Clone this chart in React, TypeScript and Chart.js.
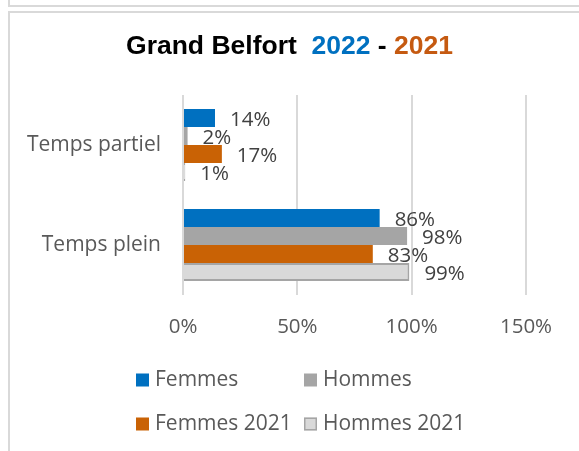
import React, { useEffect, useRef } from 'react';
import { Chart, registerables } from 'chart.js';

Chart.register(...registerables);

const categories = ['Temps partiel', 'Temps plein'];
const seriesNames = ['Femmes', 'Hommes', 'Femmes 2021', 'Hommes 2021'];
const femmes = [14, 86];
const hommes = [2, 98];
const femmes2021 = [17, 83];
const hommes2021 = [1, 99];
const xTickValues = [0, 50, 100, 150];
const titleTexts = ['Grand Belfort  ', '2022', ' - ', '2021'];

const TITLE_COLORS = ['#000000', '#0070C0', '#000000', '#C55A11'];
const FONT = "'Open Sans', 'Noto Sans', sans-serif";
const GRAY_TEXT = '#595959';

const overlayPlugin = {
  id: 'overlay',
  afterDatasetsDraw(chart: any) {
    const ctx = chart.ctx as CanvasRenderingContext2D;
    ctx.save();
    ctx.font = `20.5px ${FONT}`;
    ctx.fillStyle = '#404040';
    ctx.textAlign = 'left';
    ctx.textBaseline = 'middle';
    chart.data.datasets.forEach((ds: any, i: number) => {
      const meta = chart.getDatasetMeta(i);
      meta.data.forEach((bar: any, j: number) => {
        ctx.fillText(`${ds.data[j]}%`, bar.x + 15, bar.y + 2);
      });
    });
    ctx.restore();
  },
  afterDraw(chart: any) {
    const ctx = chart.ctx as CanvasRenderingContext2D;
    ctx.save();
    ctx.font = `bold 26.5px Arial, 'Liberation Sans', sans-serif`;
    ctx.textBaseline = 'middle';
    ctx.textAlign = 'left';
    const widths = titleTexts.map((t) => ctx.measureText(t).width);
    const total = widths.reduce((a, b) => a + b, 0);
    let x = chart.width / 2 - total / 2;
    titleTexts.forEach((t, i) => {
      ctx.fillStyle = TITLE_COLORS[i];
      ctx.fillText(t, x, 47);
      x += widths[i];
    });
    const colX = [136, 304];
    const rowY = [380, 424];
    ctx.font = `21px ${FONT}`;
    chart.data.datasets.forEach((ds: any, i: number) => {
      const bx = colX[i % 2];
      const cy = rowY[Math.floor(i / 2)];
      const size = 13;
      ctx.fillStyle = ds.backgroundColor;
      ctx.fillRect(bx, cy - size / 2, size, size);
      if (ds.borderWidth) {
        ctx.strokeStyle = ds.borderColor;
        ctx.lineWidth = 1.5;
        ctx.strokeRect(bx + 0.75, cy - size / 2 + 0.75, size - 1.5, size - 1.5);
      }
      ctx.fillStyle = GRAY_TEXT;
      ctx.textBaseline = 'middle';
      ctx.fillText(ds.label, bx + 19, cy);
    });
    ctx.restore();
  },
};

export default function App() {
  const canvasRef = useRef<HTMLCanvasElement | null>(null);

  useEffect(() => {
    if (!canvasRef.current) return;
    Chart.defaults.font.family = FONT;
    const chart = new Chart(canvasRef.current, {
      type: 'bar',
      data: {
        labels: categories,
        datasets: [
          { label: seriesNames[0], data: femmes, backgroundColor: '#0070C0', borderWidth: 0 },
          { label: seriesNames[1], data: hommes, backgroundColor: '#A5A5A5', borderWidth: 0 },
          { label: seriesNames[2], data: femmes2021, backgroundColor: '#C96205', borderWidth: 0 },
          { label: seriesNames[3], data: hommes2021, backgroundColor: '#D9D9D9', borderColor: '#A5A5A5', borderWidth: 2 },
        ],
      },
      options: {
        indexAxis: 'y',
        animation: false,
        responsive: false,
        maintainAspectRatio: false,
        datasets: { bar: { categoryPercentage: 0.72, barPercentage: 1 } },
        layout: { padding: { left: 0, right: 53, top: 95, bottom: 106 } },
        plugins: {
          legend: { display: false },
          title: { display: false },
          tooltip: { enabled: false },
        },
        scales: {
          x: {
            min: 0,
            max: 150,
            border: { display: false },
            grid: { color: '#D9D9D9', lineWidth: 2, drawTicks: false },
            afterBuildTicks: (s: any) => {
              s.ticks = xTickValues.map((v) => ({ value: v }));
            },
            afterFit: (s: any) => {
              s.height = 50;
            },
            ticks: {
              padding: 20,
              color: GRAY_TEXT,
              font: { size: 20.5, family: FONT },
              callback: (v: any) => `${v}%`,
            },
          },
          y: {
            border: { display: false },
            grid: { display: false, drawTicks: false },
            afterFit: (s: any) => {
              s.width = 183;
            },
            ticks: {
              padding: 22,
              color: GRAY_TEXT,
              font: { size: 21, family: FONT },
            },
          },
        },
      },
      plugins: [overlayPlugin],
    } as any);
    return () => chart.destroy();
  }, []);

  return (
    <div style={{ position: 'fixed', left: 0, top: 0, width: 579, height: 451, background: '#fff', overflow: 'hidden' }}>
      <div style={{ position: 'absolute', left: 8, top: 0, width: 2, height: 7, background: '#D9D9D9' }} />
      <div style={{ position: 'absolute', left: 8, top: 5, width: 571, height: 2, background: '#D9D9D9' }} />
      <div
        style={{
          position: 'absolute',
          left: 8,
          top: 11,
          width: 600,
          height: 500,
          borderTop: '2px solid #D9D9D9',
          borderLeft: '2px solid #D9D9D9',
        }}
      />
      <canvas ref={canvasRef} width={579} height={451} style={{ position: 'absolute', left: 0, top: 0, width: 579, height: 451 }} />
    </div>
  );
}
